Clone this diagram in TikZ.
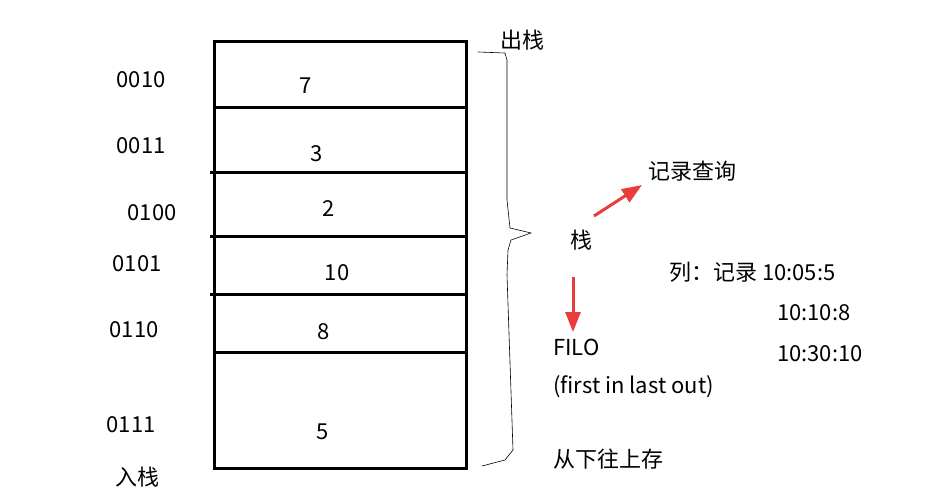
\documentclass[tikz,border=0pt]{standalone}
\usepackage{fontspec}
\setmainfont{Noto Sans CJK SC}
\usetikzlibrary{arrows.meta}
\begin{document}
\begin{tikzpicture}[x=1pt,y=-1pt,
  lbl/.style={font=\fontsize{22}{26}\selectfont,inner sep=0pt},
  lbll/.style={lbl,anchor=west},
  redarr/.style={draw={rgb,255:red,235;green,60;blue,60},line width=3pt,-{Triangle[length=20pt,width=15pt]}},
  thick3/.style={line width=3pt}]
\useasboundingbox (0,0) rectangle (946,496);
\fill[white] (0,0) rectangle (946,496);
\draw[thick3] (214,41) rectangle (466,468);
\coordinate (l1) at (214,107); \coordinate (r1) at (466,107);
\coordinate (l2) at (210,172); \coordinate (r2) at (466,172);
\coordinate (l3) at (210,236); \coordinate (r3) at (466,236);
\coordinate (l4) at (210,294); \coordinate (r4) at (466,294);
\coordinate (l5) at (214,352); \coordinate (r5) at (466,352);
\foreach \i in {1,...,5} \draw[thick3] (l\i) -- (r\i);
\node[lbl] (a1) at (141,80) {0010};
\node[lbl] (a2) at (141,146) {0011};
\node[lbl] (a3) at (152,213) {0100};
\node[lbl] (a4) at (137,264) {0101};
\node[lbl] (a5) at (134,330) {0110};
\node[lbl] (a6) at (131,425) {0111};
\node[lbl] (in) at (137,477) {入栈};
\node[lbl] (v1) at (306,86) {7};
\node[lbl] (v2) at (317,154) {3};
\node[lbl] (v3) at (329,209) {2};
\node[lbl] (v4) at (337,273) {10};
\node[lbl] (v5) at (324,332) {8};
\node[lbl] (v6) at (323,432) {5};
\node[lbl] (out) at (522,40) {出栈};
\draw[line width=0.6pt] (478,52) -- (505,53) -- (507,60) -- (507,200) -- (510,228) -- (531,233) -- (511,240) -- (508,250) -- (507,275) -- (513,450) -- (505,460) -- (482,466);
\node[lbl] (zhan) at (581,240) {栈};
\node[lbll] (q) at (648,171) {记录查询};
\node[lbll] (filo) at (553,347) {FILO};
\node[lbll] (fl) at (553,387) {(first in last out)};
\node[lbll] (cun) at (553,459) {从下往上存};
\node[lbll] (lie) at (669,272) {列：记录 10:05:5};
\node[lbll] (t2) at (777,313) {10:10:8};
\node[lbll] (t3) at (777,354) {10:30:10};
\coordinate (s1) at (594,216); \coordinate (e1) at (642,185);
\coordinate (s2) at (573,277); \coordinate (e2) at (573,332);
\draw[redarr] (s1) -- (e1);
\draw[redarr] (s2) -- (e2);
\end{tikzpicture}
\end{document}
